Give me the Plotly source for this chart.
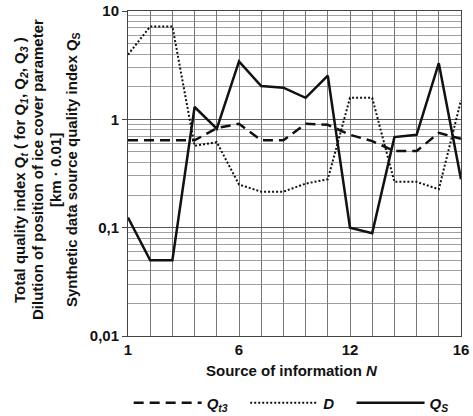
import plotly.graph_objects as go

# Data
x_positions = list(range(1, 17))
x_tick_labels = ["1", "", "", "", "", "6", "", "", "", "", "12", "", "", "", "", "16"]

qt3_values = [0.64, 0.64, 0.64, 0.64, 0.83, 0.91, 0.64, 0.64, 0.91, 0.89, 0.72, 0.63, 0.51, 0.51, 0.75, 0.66]
d_values = [3.95, 7.2, 7.2, 0.57, 0.615, 0.25, 0.215, 0.215, 0.255, 0.28, 1.58, 1.58, 0.265, 0.265, 0.226, 1.5]
qs_values = [0.124, 0.05, 0.05, 1.3, 0.82, 3.42, 2.03, 1.96, 1.58, 2.53, 0.1, 0.089, 0.685, 0.72, 3.3, 0.28]

y_tick_vals = [0.01, 0.1, 1, 10]
y_tick_labels = ["0,01", "0,1", "1", "10"]

y_title_lines = [
    "Total quality index Q<sub><i>t</i></sub> ( for Q<sub><i>1</i></sub>, Q<sub><i>2</i></sub>, Q<sub><i>3</i></sub> )",
    "Dilution of position of ice cover parameter",
    "[km · 0.01]",
    "Synthetic data source quality index Q<sub>S</sub>",
]

FONT = "Liberation Sans, Arial, sans-serif"
L, R, T, B = 128, 12, 11, 80
W, H = 473, 416
PW, PH = W - L - R, H - T - B
GAP = "&nbsp;" * 3

fig = go.Figure()
fig.add_trace(go.Scatter(x=x_positions, y=qt3_values, mode="lines",
                         name=f"<b><i>Q<sub>t3</sub></i></b>{GAP}",
                         line=dict(color="#111111", width=2.5, dash="10px,6px")))
fig.add_trace(go.Scatter(x=x_positions, y=d_values, mode="lines",
                         name=f"<b><i>D</i></b>{GAP}",
                         line=dict(color="#111111", width=2, dash="2px,2px")))
fig.add_trace(go.Scatter(x=x_positions, y=qs_values, mode="lines",
                         name="<b><i>Q<sub>S</sub></i></b>",
                         line=dict(color="#111111", width=2.5)))

fig.update_layout(
    width=W, height=H,
    margin=dict(l=L, r=R, t=T, b=B, autoexpand=False),
    paper_bgcolor="white", plot_bgcolor="white",
    font=dict(family=FONT, color="#111111", size=15),
    showlegend=True,
    legend=dict(orientation="h", x=0.49, xanchor="center", y=(336 - 403) / PH, yanchor="middle",
                itemwidth=68, font=dict(size=15, family=FONT), bgcolor="rgba(0,0,0,0)"),
    xaxis=dict(range=[1, 16], tickmode="array", tickvals=x_positions,
               ticktext=[f"<b>{t}</b>" if t else "" for t in x_tick_labels],
               showgrid=True, gridcolor="#777777", gridwidth=1, zeroline=False,
               showline=True, linecolor="#444444", linewidth=1, mirror=True,
               ticks="", automargin=False, tickfont=dict(size=15, family=FONT)),
    yaxis=dict(type="log", range=[-2, 1], tickmode="array", tickvals=y_tick_vals,
               ticktext=[f"<b>{t}</b>" for t in y_tick_labels],
               showgrid=True, gridcolor="#555555", gridwidth=1.2,
               minor=dict(showgrid=True, gridcolor="#a0a0a0", gridwidth=1, dtick="D1"),
               showline=True, linecolor="#444444", linewidth=1, mirror=True,
               ticks="outside", ticklen=5, tickcolor="#444444", automargin=False,
               tickfont=dict(size=15, family=FONT)),
)

fig.add_annotation(text="<b>Source of information <i>N</i></b>", xref="paper", yref="paper",
                   x=(292 - L) / PW, y=(336 - 370) / PH, xanchor="center", yanchor="middle",
                   showarrow=False, font=dict(size=15, family=FONT))

line_x_px = [20, 37, 55, 72]
for txt, px in zip(y_title_lines, line_x_px):
    fig.add_annotation(text=f"<b>{txt}</b>", xref="paper", yref="paper",
                       x=(px - L) / PW, y=(336 - 170) / PH, xanchor="center", yanchor="middle",
                       textangle=-90, showarrow=False, font=dict(size=15, family=FONT))

fig.write_html("out.html", config={"displayModeBar": False},
               post_script="document.body.style.margin='0px';")
